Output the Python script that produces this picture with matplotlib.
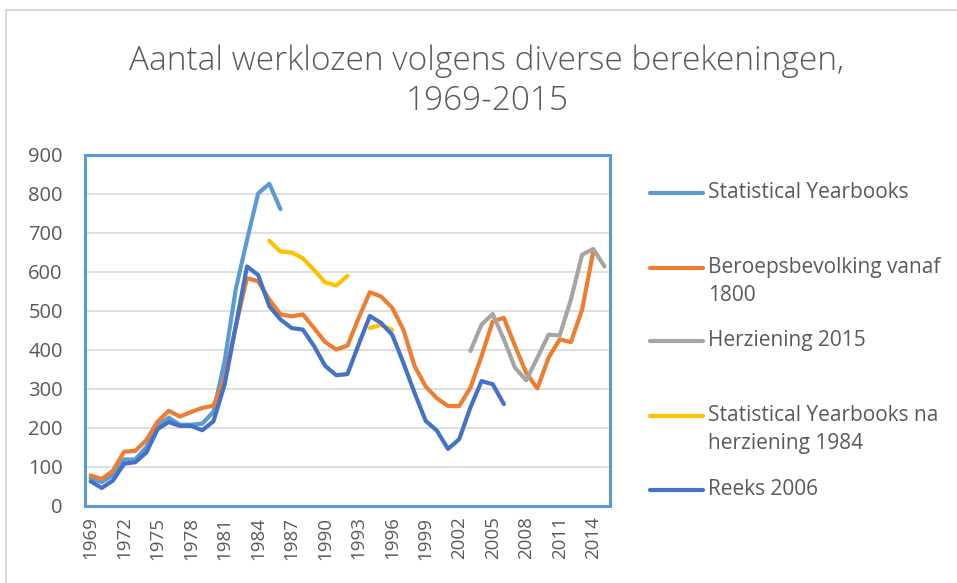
import numpy as np
import matplotlib.pyplot as plt
from matplotlib.lines import Line2D
from matplotlib.patches import Rectangle

# =============================================================================
# DATA (thousands of unemployed)
# =============================================================================
years = list(range(1969, 2016))

statistical_yearbooks = [70, 60, 78, 118, 118, 150, 205, 225, 207, 207,
                         210, 240, 370, 555, 680, 800, 825, 760]  # 1969-1986

beroepsbevolking = [77, 68, 89, 138, 140, 168, 215, 243, 228, 240,
                    250, 256, 325, 460, 583, 575, 528, 490, 485, 490,
                    455, 419, 400, 410, 481, 547, 536, 507, 451, 358,
                    305, 275, 255, 255, 302, 383, 472, 481, 409, 340,
                    300, 379, 426, 419, 502, 651]  # 1969-2014

herziening_2015 = [396, 464, 491, 426, 353, 321, 379, 438, 436, 528,
                   643, 658, 613]  # 2003-2015

yearbooks_na_1984 = [679, 651, 649, 634, 604, 572, 564, 589,
                     np.nan, 455, 463, 450]  # 1985-1996

reeks_2006 = [62, 45, 64, 107, 111, 136, 196, 214, 204, 204,
              193, 216, 310, 460, 613, 591, 511, 477, 455, 451,
              409, 358, 334, 337, 413, 486, 468, 438, 366, 289,
              217, 192, 145, 170, 251, 319, 311, 260]  # 1969-2006

series = [
    ("Statistical Yearbooks", 1969, statistical_yearbooks, "#5B9BD5"),
    ("Beroepsbevolking vanaf\n1800", 1969, beroepsbevolking, "#ED7D31"),
    ("Herziening 2015", 2003, herziening_2015, "#A5A5A5"),
    ("Statistical Yearbooks na\nherziening 1984", 1985, yearbooks_na_1984, "#FFC000"),
    ("Reeks 2006", 1969, reeks_2006, "#4472C4"),
]

TEXT = "#595959"
FONT = "Open Sans"

# =============================================================================
# FIGURE
# =============================================================================
W, H = 957, 583
fig = plt.figure(figsize=(W / 100, H / 100), dpi=100)
plt.rcParams["font.family"] = [FONT, "DejaVu Sans"]

# chart area frame
fig.patches.append(Rectangle((6 / W, -0.1), 1.2, 1 - 10 / H + 0.1,
                             transform=fig.transFigure, fill=False,
                             edgecolor="#D9D9D9", linewidth=1.5))

ax = fig.add_axes([85 / W, 1 - 505.5 / H, 525 / W, 351 / H])

for label, start, values, color in series:
    x = np.arange(start, start + len(values))
    ax.plot(x, values, color=color, linewidth=3.0, solid_capstyle="round",
            solid_joinstyle="round", label=label)

ax.set_xlim(1968.5, 2015.5)
ax.set_ylim(0, 900)
ax.set_yticks(range(0, 901, 100))
ax.set_xticks(years[::3])
ax.set_xticklabels([str(y) for y in years[::3]], rotation=90)
ax.yaxis.grid(True, color="#D9D9D9", linewidth=1.2)
ax.set_axisbelow(True)
ax.tick_params(axis="y", length=0, pad=16, labelsize=14.5, labelcolor=TEXT)
ax.tick_params(axis="x", length=0, pad=8, labelsize=13.5, labelcolor=TEXT)
for spine in ax.spines.values():
    spine.set_color("#5B9BD5")
    spine.set_linewidth(2.2)

fig.text(487 / W, 1 - 61 / H, "Aantal werklozen volgens diverse berekeningen,",
         ha="center", va="center", fontsize=24, color=TEXT, fontweight="light")
fig.text(487 / W, 1 - 101 / H, "1969-2015",
         ha="center", va="center", fontsize=24, color=TEXT, fontweight="light")

# legend, Excel style: handles evenly spaced, text hanging from first line
handle_y = [193, 268, 341, 416, 490]
for (label, _, _, color), yy in zip(series, handle_y):
    yf = 1 - yy / H
    fig.lines.append(Line2D([650 / W, 703 / W], [yf, yf], transform=fig.transFigure,
                            color=color, linewidth=3.0, solid_capstyle="round"))
    fig.text(708 / W, yf + 11 / H, label, ha="left", va="top", fontsize=15,
             color=TEXT, linespacing=1.45)

fig.savefig("out.png", dpi=100)
